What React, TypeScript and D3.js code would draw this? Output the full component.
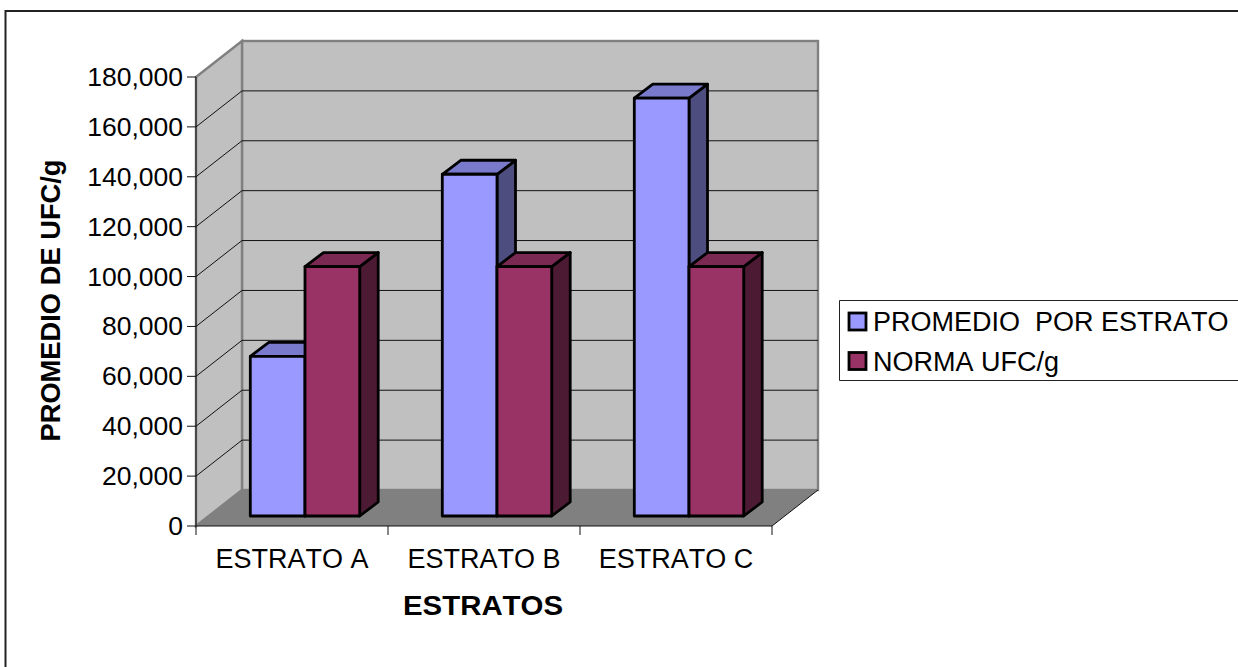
import React from "react";
import * as d3 from "d3";

const categories = ["ESTRATO A", "ESTRATO B", "ESTRATO C"];
const seriesNames = ["PROMEDIO  POR ESTRATO", "NORMA UFC/g"];
const promedio = [64000, 137000, 167500];
const norma = [100000, 100000, 100000];
const yTicks = [0, 20000, 40000, 60000, 80000, 100000, 120000, 140000, 160000, 180000];

const fills = ["#9999FF", "#993366"];
const tops = ["#7A7ACC", "#7A2952"];
const sides = ["#4D4D80", "#4D1A33"];

const FONT = "'Liberation Sans', Arial, sans-serif";

// Plot frame and oblique projection of the 3-D box
const left = 196;
const right = 772;
const base = 526;
const top = 77;
const wallDx = 46;
const wallDy = -36;
const barDx = 18.5;
const barDy = -14;
const barInsetX = 13;
const barInsetY = -10;

const y = d3.scaleLinear().domain([0, 180000]).range([base, top]);
const x = d3.scaleBand().domain(categories).range([left, right]);
const barWidth = 54.7;
const barSpan = barWidth * 2;

const fmt = d3.format(",");
const poly = (pts: number[][]) => pts.map((p) => p.join(",")).join(" ");

function Label({
  x: tx,
  y: ty,
  sx = 1,
  anchor = "start",
  size,
  weight = "normal",
  children,
}: {
  x: number;
  y: number;
  sx?: number;
  anchor?: string;
  size: number;
  weight?: string;
  children: React.ReactNode;
}) {
  return (
    <text
      transform={`translate(${tx},${ty}) scale(${sx},1)`}
      textAnchor={anchor}
      fontSize={size}
      fontWeight={weight}
      fill="#000"
      xmlSpace="preserve"
      style={{ fontKerning: "none" }}
    >
      {children}
    </text>
  );
}

function Bar({ x0, value, s }: { x0: number; value: number; s: number }) {
  const x1 = x0 + barWidth;
  const yBottom = y(0) + barInsetY;
  const yTop = y(value) + barInsetY;
  const common = { stroke: "#000", strokeWidth: 2.8, strokeLinejoin: "round" as const };
  return (
    <g>
      <polygon
        points={poly([[x1, yTop], [x1 + barDx, yTop + barDy], [x1 + barDx, yBottom + barDy], [x1, yBottom]])}
        fill={sides[s]}
        {...common}
      />
      <polygon
        points={poly([[x0, yTop], [x0 + barDx, yTop + barDy], [x1 + barDx, yTop + barDy], [x1, yTop]])}
        fill={tops[s]}
        {...common}
      />
      <rect x={x0} y={yTop} width={barWidth} height={yBottom - yTop} fill={fills[s]} {...common} />
    </g>
  );
}

export default function App() {
  const backLeft = left + wallDx;
  const backRight = right + wallDx;
  const series = [promedio, norma];
  return (
    <svg
      width={1238}
      height={667}
      style={{ position: "absolute", left: 0, top: 0, background: "#fff" }}
      fontFamily={FONT}
    >
      {/* outer chart area border */}
      <path d="M5.5,667V11H1238" fill="none" stroke="#222" strokeWidth={2} />

      {/* back wall, side wall, floor */}
      <rect x={backLeft} y={y(180000) + wallDy} width={right - left} height={base - top} fill="#C0C0C0" stroke="#808080" strokeWidth={2.4} />
      <polygon
        points={poly([[left, top], [backLeft, top + wallDy], [backLeft, base + wallDy], [left, base]])}
        fill="#C0C0C0"
        stroke="#808080"
        strokeWidth={2.4}
      />
      <polygon
        points={poly([[left, base], [backLeft, base + wallDy], [backRight, base + wallDy], [right, base]])}
        fill="#808080"
      />

      {/* gridlines across both walls */}
      {yTicks.slice(1, -1).map((t) => (
        <g key={t} stroke="#111" strokeWidth={1}>
          <line x1={left} y1={y(t)} x2={backLeft} y2={y(t) + wallDy} />
          <line x1={backLeft} y1={y(t) + wallDy} x2={backRight} y2={y(t) + wallDy} />
        </g>
      ))}

      {/* bars */}
      {categories.map((c, i) => {
        const start = (x(c) as number) + (x.bandwidth() - barSpan) / 2 + barInsetX;
        return (
          <g key={c}>
            {series.map((vals, s) => (
              <Bar key={s} x0={start + s * barWidth} value={vals[i]} s={s} />
            ))}
          </g>
        );
      })}

      {/* value axis */}
      <line x1={left} y1={top} x2={left} y2={base} stroke="#111" strokeWidth={1} />
      {yTicks.map((t) => (
        <g key={t}>
          <line x1={left - 9} y1={y(t)} x2={left} y2={y(t)} stroke="#111" strokeWidth={1} />
          <Label x={left - 13} y={y(t) + 9} size={26.5} anchor="end">
            {fmt(t)}
          </Label>
        </g>
      ))}

      {/* category axis */}
      <line x1={left} y1={base} x2={right} y2={base} stroke="#111" strokeWidth={1} />
      <line x1={right} y1={base} x2={backRight} y2={base + wallDy} stroke="#111" strokeWidth={1} />
      {d3.range(categories.length + 1).map((i) => {
        const tx = left + i * x.step();
        return <line key={i} x1={tx} y1={base} x2={tx} y2={base + 9} stroke="#111" strokeWidth={1} />;
      })}
      {categories.map((c) => (
        <Label key={c} x={(x(c) as number) + x.bandwidth() / 2} y={568} size={27} anchor="middle">
          {c}
        </Label>
      ))}

      {/* axis titles */}
      <Label x={483} y={615} sx={1.05} size={28} weight="bold" anchor="middle">
        ESTRATOS
      </Label>
      <text
        transform="translate(59.5,300.5) rotate(-90)"
        textAnchor="middle"
        fontSize={27.3}
        fontWeight="bold"
        fill="#000"
        style={{ fontKerning: "none" }}
      >
        PROMEDIO DE UFC/g
      </text>

      {/* legend */}
      <path d="M1238,300.5H839.5V380.5H1238" fill="#fff" stroke="#222" strokeWidth={1} />
      {seriesNames.map((name, s) => (
        <g key={name}>
          <rect x={849} y={313 + s * 39.5} width={17} height={17} fill={fills[s]} stroke="#000" strokeWidth={2.8} />
          <Label x={873} y={331 + s * 40} size={27}>
            {name}
          </Label>
        </g>
      ))}
    </svg>
  );
}
